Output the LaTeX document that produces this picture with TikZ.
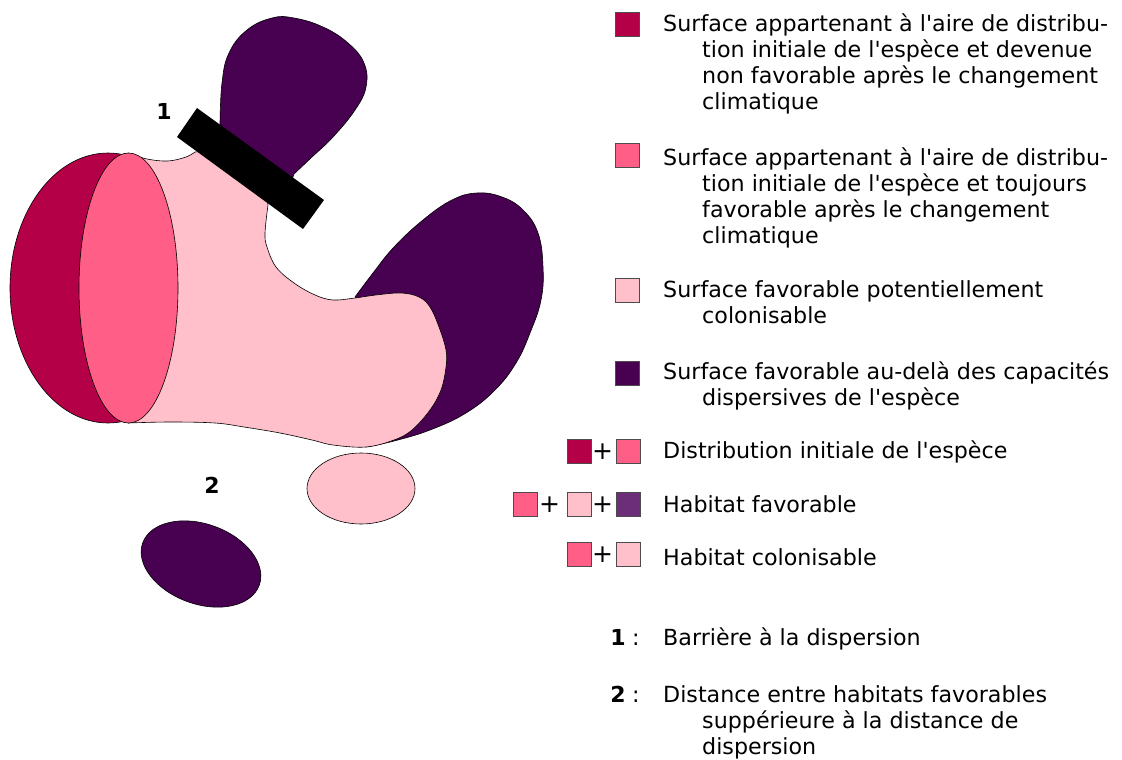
\documentclass[tikz,border=0pt]{standalone}
\usepackage{fontspec}
\setmainfont{DejaVu Sans}
\definecolor{dred}{RGB}{179,0,71}
\definecolor{pinkc}{RGB}{255,94,135}
\definecolor{lpink}{RGB}{255,192,203}
\definecolor{dpurp}{RGB}{72,0,80}
\definecolor{mpurp}{RGB}{108,46,120}
\newcommand\ap{\textquotesingle}
\tikzset{
  blob/.style={draw=black, line width=0.6pt, line join=round},
  sq/.style={draw=black!70, line width=0.6pt, minimum size=24pt, inner sep=0pt},
  lt/.style={anchor=base west, inner sep=0pt, font=\fontsize{22.2}{26}\selectfont},
  pl/.style={anchor=center, inner sep=0pt, font=\fontsize{25}{26}\selectfont},
  num/.style={anchor=base, inner sep=0pt, font=\fontsize{22}{26}\selectfont\bfseries},
}
\begin{document}
\begin{tikzpicture}[x=1pt,y=-1pt]
\useasboundingbox (0,0) rectangle (1122,760);
% top purple blob
\draw[blob, fill=dpurp] plot[smooth, tension=0.7] coordinates {(220,124) (222,83) (229,53) (247,30) (272,18) (294,18) (323,27) (348,43) (364,63) (366,87) (355,110) (333,137) (312,157) (294,174)} -- (290,185) -- (225,135) -- cycle;
% right purple blob
\draw[blob, fill=dpurp] plot[smooth, tension=0.7] coordinates {(355,297) (373,273) (394,247) (423,220) (452,200) (477,193) (502,197) (523,210) (538,233) (543,267) (541,300) (530,333) (516,363) (495,390) (466,413) (430,430) (394,441) (366,447)} -- (400,350) -- cycle;
% dark red
\draw[blob, fill=dred] (108,288) ellipse [x radius=98, y radius=135];
% light pink body
\draw[blob, fill=lpink] plot[smooth, tension=0.6] coordinates {(128,153) (147,159) (168,161) (186,157) (195,152)} -- (220,150) -- (265,185) -- plot[smooth, tension=0.6] coordinates {(268,205) (265,233) (267,247) (276,267) (294,283) (315,295) (333,300) (355,298) (376,295) (401,293) (419,297) (430,307) (439,327) (446,350) (446,367) (441,390) (430,410) (412,430) (394,440) (366,447) (333,445) (312,440) (280,433) (244,427) (215,423) (170,422) (128,423)} -- cycle;
% pink ellipse
\draw[blob, fill=pinkc] (128.5,288) ellipse [x radius=49.5, y radius=135];
% barrier
\fill[black] (197,108) -- (324,200) -- (303,229) -- (177,137) -- cycle;
\node[num] (n1) at (164,119) {1};
% small ellipses
\draw[blob, fill=lpink] (361,488.5) ellipse [x radius=54, y radius=35.5];
\draw[blob, fill=dpurp, rotate around={-20:(201,564)}] (201,564) ellipse [x radius=62, y radius=40];
\node[num] (n2) at (212,493) {2};

% legend
\node[sq, fill=dred] (s1) at (627,24) {};
\node[lt] (t1a) at (663,32) {Surface appartenant à l\ap aire de distribu-};
\node[lt] (t1b) at (702,58) {tion initiale de l\ap espèce et devenue};
\node[lt] (t1c) at (702,84) {non favorable après le changement};
\node[lt] (t1d) at (702,110) {climatique};

\node[sq, fill=pinkc] (s2) at (627,155) {};
\node[lt] (t2a) at (663,165) {Surface appartenant à l\ap aire de distribu-};
\node[lt] (t2b) at (702,191) {tion initiale de l\ap espèce et toujours};
\node[lt] (t2c) at (702,217) {favorable après le changement};
\node[lt] (t2d) at (702,243) {climatique};

\node[sq, fill=lpink] (s3) at (627,290.5) {};
\node[lt] (t3a) at (663,297) {Surface favorable potentiellement};
\node[lt] (t3b) at (702,323) {colonisable};

\node[sq, fill=dpurp] (s4) at (627,373) {};
\node[lt] (t4a) at (663,379) {Surface favorable au-delà des capacités};
\node[lt] (t4b) at (702,405) {dispersives de l\ap espèce};

\node[sq, fill=dred] (c1a) at (579,451) {};
\node[pl] (p1a) at (602.5,452) {+};
\node[sq, fill=pinkc] (c1b) at (628,451) {};
\node[lt] (t5) at (663,458) {Distribution initiale de l\ap espèce};

\node[sq, fill=pinkc] (c2a) at (525,504) {};
\node[pl] (p2a) at (549.5,505) {+};
\node[sq, fill=lpink] (c2b) at (579,504) {};
\node[pl] (p2b) at (602.5,505) {+};
\node[sq, fill=mpurp] (c2c) at (628,504) {};
\node[lt] (t6) at (663,512) {Habitat favorable};

\node[sq, fill=pinkc] (c3a) at (579,554) {};
\node[pl] (p3a) at (602.5,555) {+};
\node[sq, fill=lpink] (c3b) at (628,554) {};
\node[lt] (t7) at (663,565) {Habitat colonisable};

\node[num] (l1) at (618,645) {1};
\node[lt] (l1c) at (632,645) {:};
\node[lt] (t8) at (663,645) {Barrière à la dispersion};

\node[num] (l2) at (618,702) {2};
\node[lt] (l2c) at (632,702) {:};
\node[lt] (t9a) at (663,702) {Distance entre habitats favorables};
\node[lt] (t9b) at (702,728) {suppérieure à la distance de};
\node[lt] (t9c) at (702,754) {dispersion};
\end{tikzpicture}
\end{document}
